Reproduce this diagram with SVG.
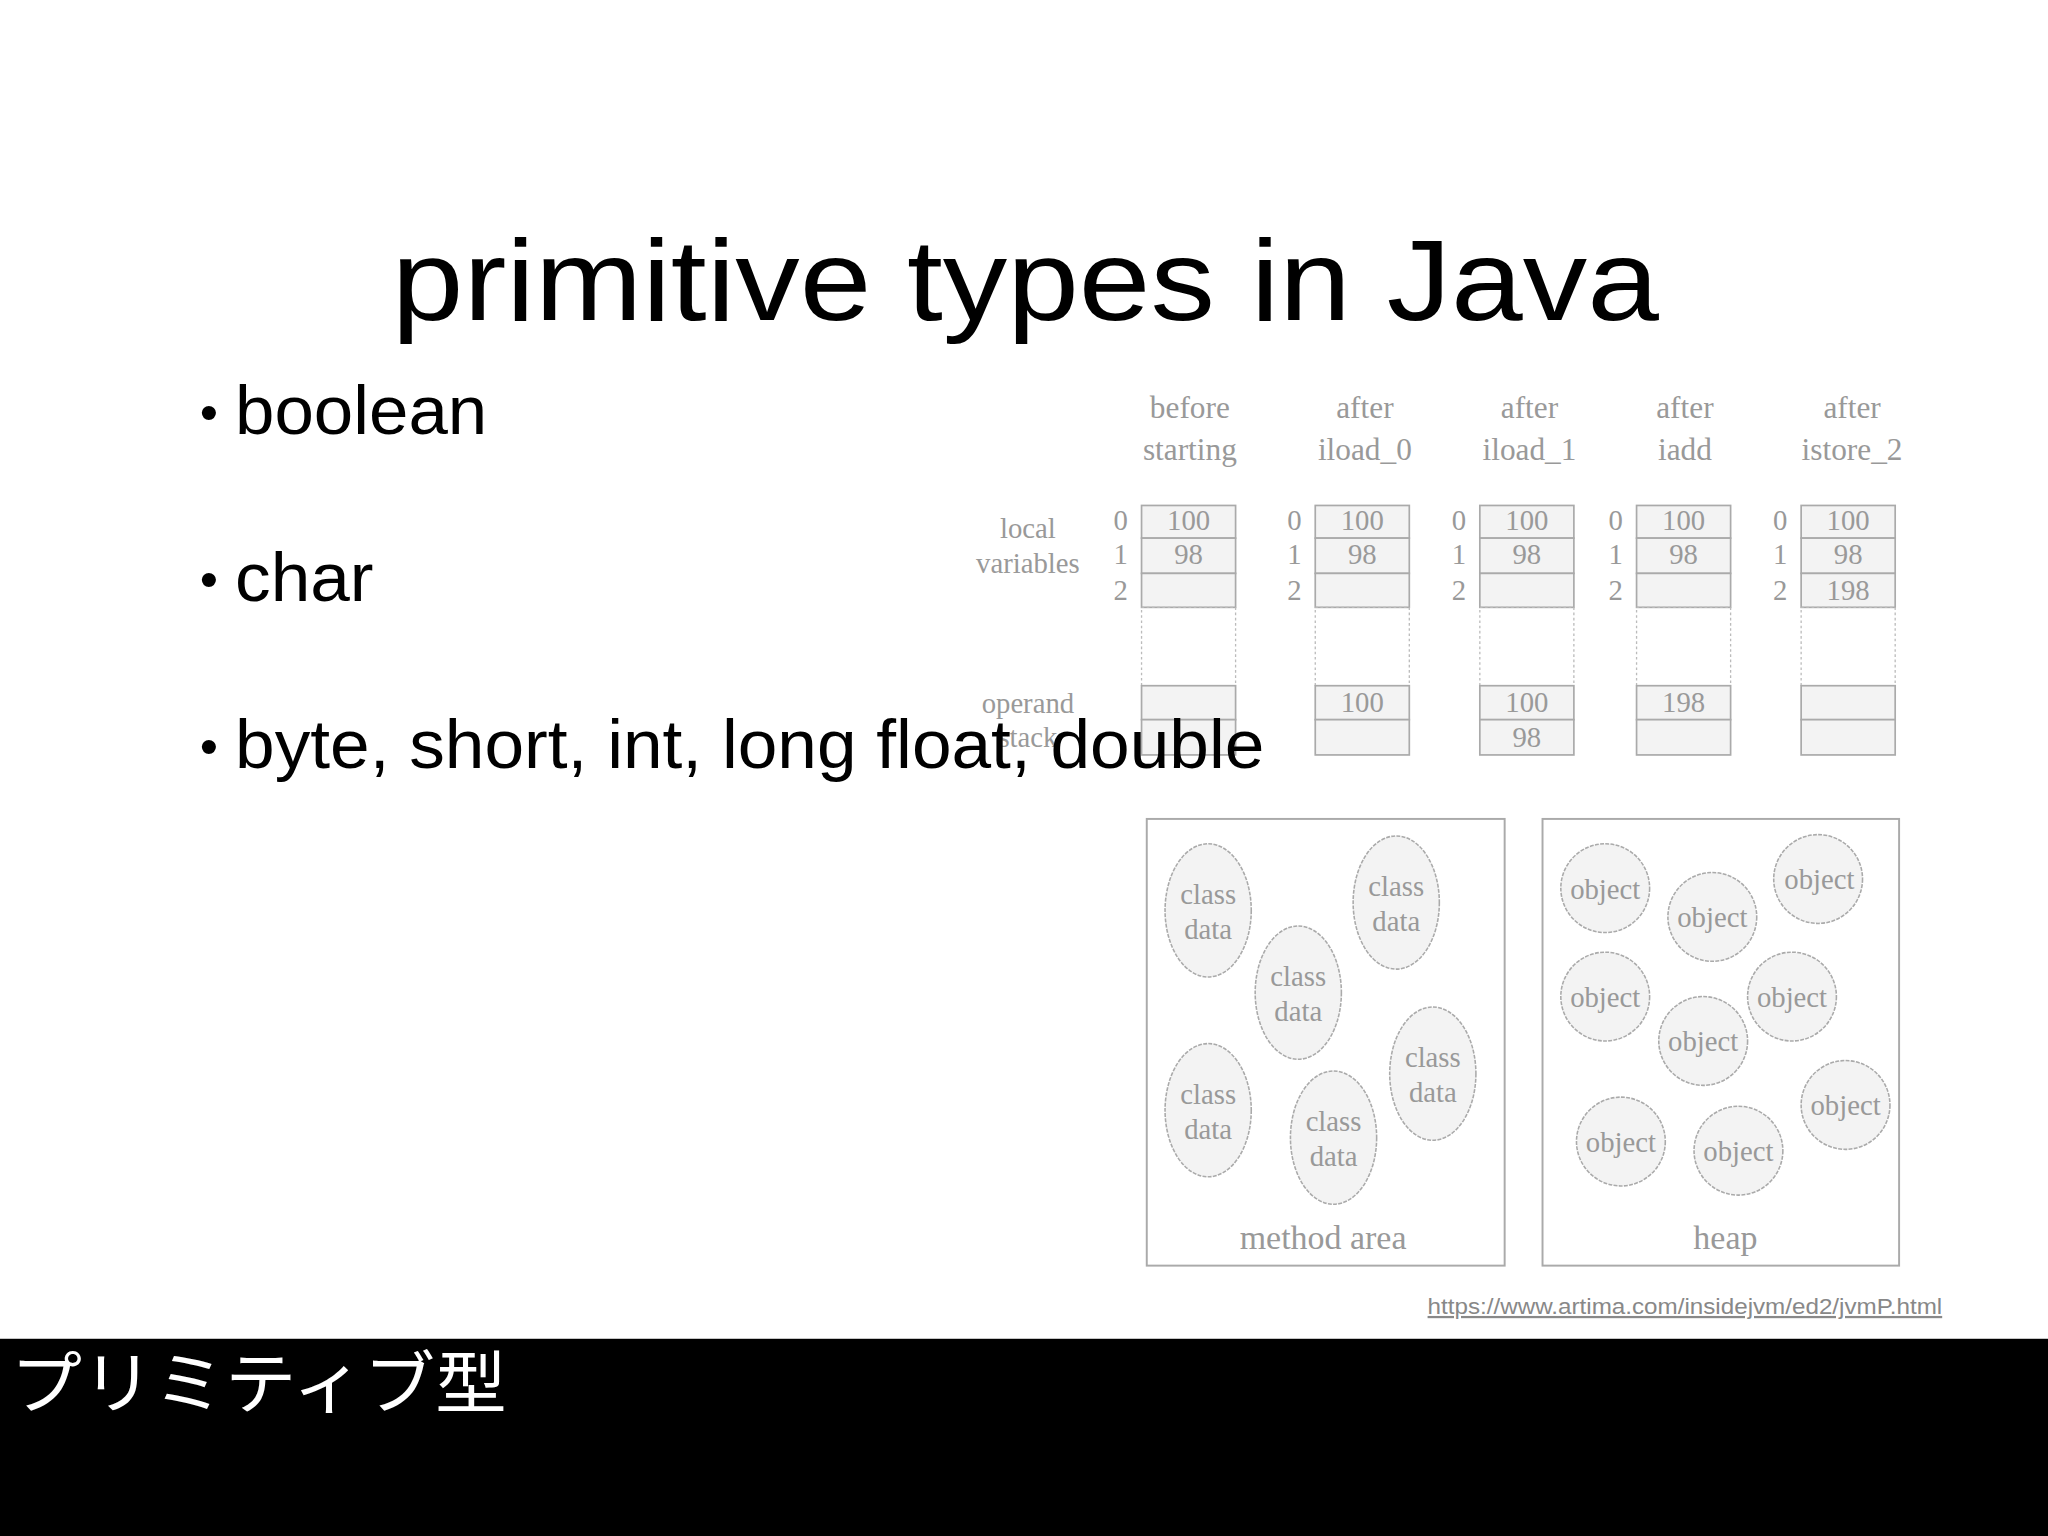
<svg xmlns="http://www.w3.org/2000/svg" width="2048" height="1536" viewBox="0 0 2048 1536">
<style>
.g{font-family:"Liberation Serif",serif;fill:#999;font-size:22px;text-anchor:middle}
.h{font-size:24px}
.c{fill:#f3f3f3;stroke:#aaa;stroke-width:1.3}
.d{fill:none;stroke:#bbb;stroke-width:1;stroke-dasharray:2 2}
.e{fill:#f3f3f3;stroke:#aaa;stroke-width:1.2;stroke-dasharray:3 1}
.b{font-family:"Liberation Sans",Arial,sans-serif;font-size:52px;fill:#000}
</style>
<rect width="2048" height="1536" fill="#fff"/>
<g transform="scale(1.30612)">
<text x="785" y="245" font-family="Liberation Sans,Arial,sans-serif" font-size="88" text-anchor="middle" textLength="970" lengthAdjust="spacingAndGlyphs">primitive types in Java</text>
<g id="stack">
<g class="g">
<g class="h">
<text x="911" y="320">before</text><text x="911" y="352">starting</text>
<text x="1045" y="320">after</text><text x="1045" y="352">iload_0</text>
<text x="1171" y="320">after</text><text x="1171" y="352">iload_1</text>
<text x="1290" y="320">after</text><text x="1290" y="352">iadd</text>
<text x="1418" y="320">after</text><text x="1418" y="352">istore_2</text>
</g>
<text x="787" y="412">local</text><text x="787" y="439">variables</text>
<text x="787" y="546">operand</text><text x="787" y="572">stack</text>
</g>
<g id="col0" transform="translate(874,0)">
<rect class="c" x="0" y="387" width="72" height="25"/><rect class="c" x="0" y="412" width="72" height="27"/><rect class="c" x="0" y="439" width="72" height="26"/>
<rect class="d" x="0" y="465" width="72" height="60"/>
<rect class="c" x="0" y="525" width="72" height="26"/><rect class="c" x="0" y="551" width="72" height="27"/>
<g class="g"><text x="-16" y="406">0</text><text x="-16" y="432">1</text><text x="-16" y="459">2</text><text x="36" y="406">100</text><text x="36" y="432">98</text></g>
</g>
<g id="col1" transform="translate(1007,0)">
<rect class="c" x="0" y="387" width="72" height="25"/><rect class="c" x="0" y="412" width="72" height="27"/><rect class="c" x="0" y="439" width="72" height="26"/>
<rect class="d" x="0" y="465" width="72" height="60"/>
<rect class="c" x="0" y="525" width="72" height="26"/><rect class="c" x="0" y="551" width="72" height="27"/>
<g class="g"><text x="-16" y="406">0</text><text x="-16" y="432">1</text><text x="-16" y="459">2</text><text x="36" y="406">100</text><text x="36" y="432">98</text><text x="36" y="545">100</text></g>
</g>
<g id="col2" transform="translate(1133,0)">
<rect class="c" x="0" y="387" width="72" height="25"/><rect class="c" x="0" y="412" width="72" height="27"/><rect class="c" x="0" y="439" width="72" height="26"/>
<rect class="d" x="0" y="465" width="72" height="60"/>
<rect class="c" x="0" y="525" width="72" height="26"/><rect class="c" x="0" y="551" width="72" height="27"/>
<g class="g"><text x="-16" y="406">0</text><text x="-16" y="432">1</text><text x="-16" y="459">2</text><text x="36" y="406">100</text><text x="36" y="432">98</text><text x="36" y="545">100</text><text x="36" y="572">98</text></g>
</g>
<g id="col3" transform="translate(1253,0)">
<rect class="c" x="0" y="387" width="72" height="25"/><rect class="c" x="0" y="412" width="72" height="27"/><rect class="c" x="0" y="439" width="72" height="26"/>
<rect class="d" x="0" y="465" width="72" height="60"/>
<rect class="c" x="0" y="525" width="72" height="26"/><rect class="c" x="0" y="551" width="72" height="27"/>
<g class="g"><text x="-16" y="406">0</text><text x="-16" y="432">1</text><text x="-16" y="459">2</text><text x="36" y="406">100</text><text x="36" y="432">98</text><text x="36" y="545">198</text></g>
</g>
<g id="col4" transform="translate(1379,0)">
<rect class="c" x="0" y="387" width="72" height="25"/><rect class="c" x="0" y="412" width="72" height="27"/><rect class="c" x="0" y="439" width="72" height="26"/>
<rect class="d" x="0" y="465" width="72" height="60"/>
<rect class="c" x="0" y="525" width="72" height="26"/><rect class="c" x="0" y="551" width="72" height="27"/>
<g class="g"><text x="-16" y="406">0</text><text x="-16" y="432">1</text><text x="-16" y="459">2</text><text x="36" y="406">100</text><text x="36" y="432">98</text><text x="36" y="459">198</text></g>
</g>
</g>
<g id="method-area">
<rect x="878" y="627" width="274" height="342" fill="#fff" stroke="#aaa" stroke-width="1.5"/>
<g class="e"><ellipse cx="925" cy="697" rx="33" ry="51"/><ellipse cx="1069" cy="691" rx="33" ry="51"/><ellipse cx="994" cy="760" rx="33" ry="51"/><ellipse cx="925" cy="850" rx="33" ry="51"/><ellipse cx="1097" cy="822" rx="33" ry="51"/><ellipse cx="1021" cy="871" rx="33" ry="51"/></g>
<g class="g">
<text x="925" y="692">class</text><text x="925" y="719">data</text>
<text x="1069" y="686">class</text><text x="1069" y="713">data</text>
<text x="994" y="755">class</text><text x="994" y="782">data</text>
<text x="925" y="845">class</text><text x="925" y="872">data</text>
<text x="1097" y="817">class</text><text x="1097" y="844">data</text>
<text x="1021" y="866">class</text><text x="1021" y="893">data</text>
<text x="1013" y="956" font-size="26">method area</text>
</g>
</g>
<g id="heap">
<rect x="1181" y="627" width="273" height="342" fill="#fff" stroke="#aaa" stroke-width="1.5"/>
<g class="e"><ellipse cx="1229" cy="680" rx="34" ry="34"/><ellipse cx="1311" cy="702" rx="34" ry="34"/><ellipse cx="1392" cy="673" rx="34" ry="34"/><ellipse cx="1229" cy="763" rx="34" ry="34"/><ellipse cx="1372" cy="763" rx="34" ry="34"/><ellipse cx="1304" cy="797" rx="34" ry="34"/><ellipse cx="1413" cy="846" rx="34" ry="34"/><ellipse cx="1241" cy="874" rx="34" ry="34"/><ellipse cx="1331" cy="881" rx="34" ry="34"/></g>
<g class="g">
<text x="1229" y="688">object</text><text x="1311" y="710">object</text><text x="1393" y="681">object</text><text x="1229" y="771">object</text><text x="1372" y="771">object</text><text x="1304" y="805">object</text><text x="1413" y="854">object</text><text x="1241" y="882">object</text><text x="1331" y="889">object</text>
<text x="1321" y="956" font-size="26">heap</text>
</g>
</g>
<g id="bullets">
<text class="b" x="153" y="332"><tspan font-size="40" dy="-3">•</tspan><tspan x="180" dy="3" textLength="193" lengthAdjust="spacingAndGlyphs">boolean</tspan></text>
<text class="b" x="153" y="460"><tspan font-size="40" dy="-3">•</tspan><tspan x="180" dy="3" textLength="106" lengthAdjust="spacingAndGlyphs">char</tspan></text>
<text class="b" x="153" y="588"><tspan font-size="40" dy="-3">•</tspan><tspan x="180" dy="3" textLength="788" lengthAdjust="spacingAndGlyphs">byte, short, int, long float, double</tspan></text>
</g>
<text x="1093" y="1006" font-family="Liberation Sans,Arial,sans-serif" font-size="17" fill="#888" text-decoration="underline" textLength="394" lengthAdjust="spacingAndGlyphs">https://www.artima.com/insidejvm/ed2/jvmP.html</text>
<rect x="0" y="1025" width="1568" height="151" fill="#000"/>
<text x="8" y="1078" font-family="Noto Sans CJK JP,sans-serif" font-size="52" fill="#fff" textLength="380" lengthAdjust="spacingAndGlyphs">プリミティブ型</text>
</g>
</svg>
